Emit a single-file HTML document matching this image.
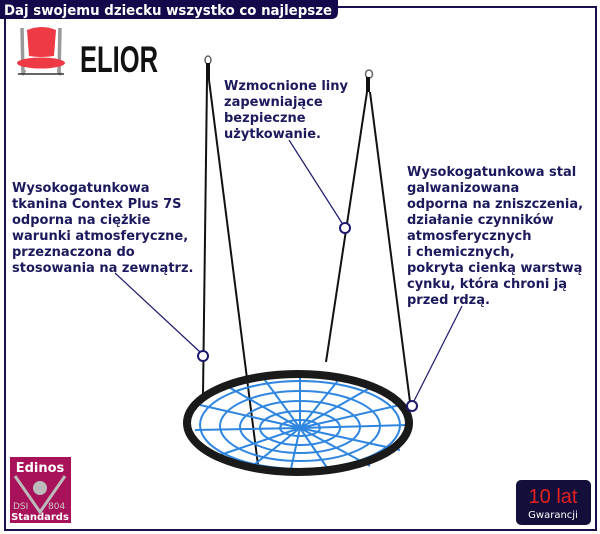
<!DOCTYPE html>
<html><head><meta charset="utf-8"><style>
body{margin:0;width:600px;height:534px;background:#fff;position:relative;overflow:hidden;font-family:"DejaVu Sans",Verdana,sans-serif}
.t{position:absolute;font-weight:bold;font-size:13px;line-height:16px;color:#1c1a5c;white-space:nowrap}
</style></head><body>
<svg width="600" height="534" style="position:absolute;left:0;top:0">
<path d="M336 7 H596 V530 H5 V19" fill="none" stroke="#1a1050" stroke-width="2"/>
<path d="M0 0 H338 V12 Q338 19 331 19 H0 Z" fill="#14094a"/>
<text x="4" y="15" font-family="DejaVu Sans, sans-serif" font-weight="bold" font-size="14" fill="#fff" textLength="328" lengthAdjust="spacingAndGlyphs">Daj swojemu dziecku wszystko co najlepsze</text>
<!-- chair -->
<path d="M22 28 L23 74 M60 28 L59 74" stroke="#999" stroke-width="3.5"/>
<path d="M27 30 Q42 24 56 30 L54 56 Q41 58 29 56 Z" fill="#ee3a45"/>
<ellipse cx="41" cy="63" rx="24" ry="5.5" fill="#ee3a45"/>
<path d="M25 70 L22 75 M58 70 L61 75" stroke="#999" stroke-width="3"/>
<path d="M18 74 H64" stroke="#333" stroke-width="1.5"/>
<text x="80" y="72" font-family="Liberation Sans Narrow, Liberation Sans, sans-serif" font-weight="bold" font-size="37" fill="#111" textLength="78" lengthAdjust="spacingAndGlyphs">ELIOR</text>
<!-- hooks -->
<ellipse cx="208" cy="60" rx="3" ry="4" fill="none" stroke="#666" stroke-width="1.5"/>
<path d="M208 63 V80" stroke="#111" stroke-width="4"/>
<ellipse cx="369" cy="74" rx="3.5" ry="4" fill="none" stroke="#666" stroke-width="1.5"/>
<path d="M368 77 V92" stroke="#111" stroke-width="4"/>
<g stroke="#111" stroke-width="2" fill="none">
<path d="M207 80 L203 395"/><path d="M209 80 L258 465"/>
<path d="M367 92 L326 362"/><path d="M370 92 L410 402"/>
</g>
<!-- net -->
<g stroke="#2f86e0" stroke-width="2" fill="none">
<ellipse cx="300" cy="425" rx="100" ry="44"/>
<ellipse cx="300" cy="426" rx="80" ry="35"/>
<ellipse cx="300" cy="427" rx="60" ry="26"/>
<ellipse cx="300" cy="428" rx="40" ry="17"/>
<ellipse cx="300" cy="428" rx="20" ry="8"/>
<path d="M300 428 L300 375 M300 428 L340 378 M300 428 L375 385 M300 428 L400 405 M300 428 L408 425 M300 428 L400 450 M300 428 L370 466 M300 428 L330 472 M300 428 L290 473 M300 428 L250 468 M300 428 L220 455 M300 428 L195 430 M300 428 L200 405 M300 428 L225 385 M300 428 L262 376"/>
</g>
<ellipse cx="298" cy="423" rx="111" ry="49" fill="none" stroke="#1a1a1a" stroke-width="8"/>
<g stroke="#1c1a6c" stroke-width="1.2" fill="#fff">
<path d="M115 273 L200 352"/><circle cx="203" cy="356" r="5" stroke-width="2"/>
<path d="M289 140 L342 223"/><circle cx="345" cy="228" r="5" stroke-width="2"/>
<path d="M462 306 L414 401"/><circle cx="412" cy="406" r="5" stroke-width="2"/>
</g>
<rect x="10" y="457" width="61" height="66" fill="#a8125a"/>
<text x="40" y="472" text-anchor="middle" font-family="DejaVu Sans, sans-serif" font-size="13" font-weight="bold" fill="#fff">Edinos</text>
<path d="M15 476 L40 512 L65 476" fill="none" stroke="#bbb" stroke-width="3"/>
<circle cx="40" cy="488" r="7" fill="#bbb"/>
<text x="13" y="509" font-family="DejaVu Sans, sans-serif" font-size="9" fill="#ccc">DSI</text>
<text x="48" y="509" font-family="DejaVu Sans, sans-serif" font-size="9" fill="#ccc">804</text>
<text x="40" y="520" text-anchor="middle" font-family="DejaVu Sans, sans-serif" font-size="10" font-weight="bold" fill="#fff">Standards</text>
<rect x="516" y="480" width="75" height="45" rx="5" fill="#12103a"/>
<text x="553" y="503" text-anchor="middle" font-family="Liberation Sans, sans-serif" font-size="20" fill="#e52020">10 lat</text>
<text x="553" y="518" text-anchor="middle" font-family="DejaVu Sans, sans-serif" font-size="10" fill="#fff">Gwarancji</text>
</svg>
<div class="t" style="left:224px;top:79px">Wzmocnione liny<br>zapewniające<br>bezpieczne<br>użytkowanie.</div>
<div class="t" style="left:12px;top:181px">Wysokogatunkowa<br>tkanina Contex Plus 7S<br>odporna na ciężkie<br>warunki atmosferyczne,<br>przeznaczona do<br>stosowania na zewnątrz.</div>
<div class="t" style="left:407px;top:165px">Wysokogatunkowa stal<br>galwanizowana<br>odporna na zniszczenia,<br>działanie czynników<br>atmosferycznych<br>i chemicznych,<br>pokryta cienką warstwą<br>cynku, która chroni ją<br>przed rdzą.</div>
</body></html>
